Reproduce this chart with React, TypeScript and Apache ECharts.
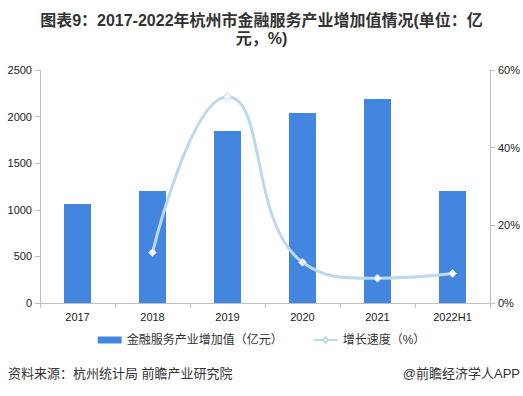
import React, { useEffect, useRef } from "react";
import * as echarts from "echarts";

const categories = ["2017", "2018", "2019", "2020", "2021", "2022H1"];
const addedValue = [1062, 1202, 1845, 2039, 2189, 1202];
const growthRate: (number | null)[] = [null, 13.0, 53.1, 10.5, 6.4, 7.6];
const titleLine1 = "图表9：2017-2022年杭州市金融服务产业增加值情况(单位：亿";
const titleLine2 = "元，%)";
const sourceText = "资料来源：杭州统计局 前瞻产业研究院";
const brandText = "@前瞻经济学人APP";
const barName = "金融服务产业增加值（亿元）";
const lineName = "增长速度（%）";

export default function App() {
  const ref = useRef<HTMLDivElement>(null);
  useEffect(() => {
    const chart = echarts.init(ref.current!, null, { renderer: "svg" });
    const font = "Arial, 'Liberation Sans', 'Noto Sans CJK SC', sans-serif";
    const titleStyle = { fontSize: 16, fontWeight: "bold", color: "#333", fontFamily: font };
    chart.setOption({
      animation: false,
      textStyle: { fontFamily: font },
      title: [
        { text: titleLine1, left: "center", top: 7, textStyle: titleStyle },
        { text: titleLine2, left: "center", top: 25, textStyle: titleStyle },
      ],
      legend: {
        bottom: 45,
        left: "center",
        itemGap: 30,
        itemWidth: 24,
        itemHeight: 7,
        textStyle: { fontSize: 12, color: "#333" },
        data: [
          { name: barName, icon: "rect" },
          { name: lineName },
        ],
      },
      grid: { left: 40, right: 33, top: 70, bottom: 93 },
      xAxis: {
        type: "category",
        data: categories,
        axisLine: { lineStyle: { color: "#bfbfbf" } },
        axisTick: { show: true, lineStyle: { color: "#bfbfbf" } },
        axisLabel: { color: "#222", fontSize: 11, margin: 8 },
      },
      yAxis: [
        {
          type: "value",
          min: 0,
          max: 2500,
          interval: 500,
          axisLine: { show: true, lineStyle: { color: "#bfbfbf" } },
          axisTick: { show: true, lineStyle: { color: "#bfbfbf" } },
          splitLine: { show: false },
          axisLabel: { color: "#222", fontSize: 11, formatter: (v: number) => String(v) },
        },
        {
          type: "value",
          min: 0,
          max: 60,
          interval: 20,
          axisLine: { show: true, lineStyle: { color: "#bfbfbf" } },
          axisTick: { show: true, lineStyle: { color: "#bfbfbf" } },
          splitLine: { show: false },
          axisLabel: { color: "#222", fontSize: 11, formatter: "{value}%" },
        },
      ],
      series: [
        {
          name: barName,
          type: "bar",
          data: addedValue,
          barWidth: 27,
          itemStyle: { color: "#4286e0" },
        },
        {
          name: lineName,
          type: "line",
          yAxisIndex: 1,
          data: growthRate,
          smooth: true,
          symbol: "diamond",
          symbolSize: 8,
          lineStyle: { color: "#bdd7ee", width: 3 },
          itemStyle: { color: "#ffffff", borderColor: "#bdd7ee", borderWidth: 1 },
        },
      ],
      graphic: [
        {
          type: "text",
          left: 8,
          top: 367,
          style: { text: sourceText, fontSize: 13, fill: "#333", fontFamily: font },
        },
        {
          type: "text",
          right: 3,
          top: 367,
          style: { text: brandText, fontSize: 13, fill: "#333", fontFamily: font },
        },
      ],
    });
    return () => chart.dispose();
  }, []);
  return <div ref={ref} style={{ width: 523, height: 396, position: "absolute", left: 0, top: 0 }} />;
}
